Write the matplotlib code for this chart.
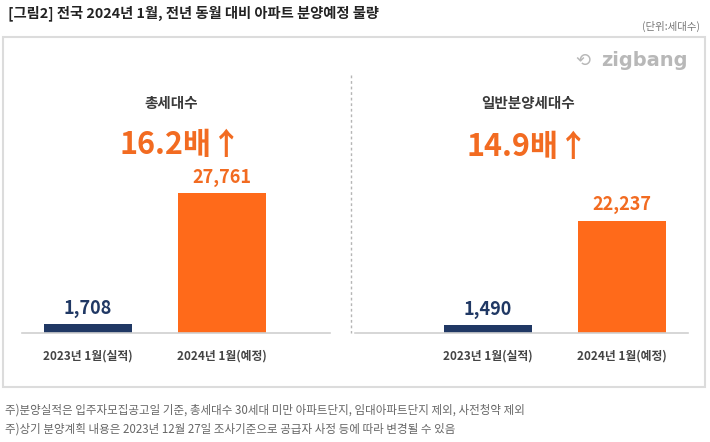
import matplotlib
matplotlib.use("Agg")
import matplotlib.pyplot as plt
from matplotlib.patches import Rectangle
from matplotlib.lines import Line2D

plt.rcParams['font.family'] = ['Noto Sans CJK KR', 'DejaVu Sans']

# data
categories = ['2023년 1월(실적)', '2024년 1월(예정)']
total_units = [1708, 27761]
general_units = [1490, 22237]
panel_titles = ['총세대수', '일반분양세대수']
ratio_labels = ['16.2배↑', '14.9배↑']
title = '[그림2] 전국 2024년 1월, 전년 동월 대비 아파트 분양예정 물량'
unit_note = '(단위:세대수)'
footnotes = ['주)분양실적은 입주자모집공고일 기준, 총세대수 30세대 미만 아파트단지, 임대아파트단지 제외, 사전청약 제외',
             '주)상기 분양계획 내용은 2023년 12월 27일 조사기준으로 공급자 사정 등에 따라 변경될 수 있음']

W, H = 710, 442
navy = '#203864'
orange = '#ff6a1a'
orange_txt = '#f26b21'

fig = plt.figure(figsize=(W / 100, H / 100), dpi=100)
fig.patch.set_facecolor('white')


def px(x, y):
    # pixel position (top-left origin) -> figure fraction
    return x / W, 1 - y / H


# outer box
x0, y0 = px(3, 387)
fig.add_artist(Rectangle((x0, y0), (705 - 3) / W, (387 - 37) / H, transform=fig.transFigure,
                         fill=False, edgecolor='#dcdcdc', linewidth=1.5))

# dashed divider
fig.add_artist(Line2D([351 / W, 351 / W], [1 - 75 / H, 1 - 333 / H], transform=fig.transFigure,
                      color='#b5b5b5', linewidth=1, linestyle=(0, (2, 2))))

base_y = 333
top_y = 80
ymax = (base_y - top_y) / 140 * 27761

# axes: (left px, right px, xlim)
panels = [(22, 330, (-0.49, 1.81)), (355, 688, (-0.99, 1.49))]
series = [total_units, general_units]
title_pos = [(171, 103), (528, 103)]
ratio_pos = [(181, 145), (528, 147)]

for i, (l, r, xl) in enumerate(panels):
    ax = fig.add_axes([l / W, 1 - base_y / H, (r - l) / W, (base_y - top_y) / H])
    vals = series[i]
    ax.bar([0, 1], vals, width=0.657, color=[navy, orange])
    ax.set_xlim(*xl)
    ax.set_ylim(0, ymax)
    for s in ['top', 'right', 'left']:
        ax.spines[s].set_visible(False)
    ax.spines['bottom'].set_color('#d0d0d0')
    ax.spines['bottom'].set_linewidth(1.2)
    ax.set_yticks([])
    ax.set_xticks([0, 1])
    ax.set_xticklabels(categories, fontsize=8.5, color='#444444', fontweight='bold')
    ax.tick_params(axis='x', length=0, pad=12)
    ax.patch.set_alpha(0)
    for j, v in enumerate(vals):
        ax.annotate(f'{v:,}', (j, v), xytext=(0, 11.5), textcoords='offset points',
                    ha='center', va='center', fontsize=13, fontweight='bold',
                    color=navy if j == 0 else orange_txt)

    tx, ty = px(*title_pos[i])
    fig.text(tx, ty, panel_titles[i], ha='center', va='center', fontsize=10.5,
             fontweight='bold', color='#3a3a3a')
    rx, ry = px(*ratio_pos[i])
    fig.text(rx, ry, ratio_labels[i], ha='center', va='center', fontsize=22,
             fontweight='bold', color=orange_txt)

# header
fig.text(8 / W, 1 - 13 / H, title, ha='left', va='center', fontsize=10.3,
         fontweight='bold', color='#222222')
fig.text(700 / W, 1 - 26 / H, unit_note, ha='right', va='center', fontsize=7.5, color='#777777')

# logo
fig.text(688 / W, 1 - 61 / H, 'zigbang', ha='right', va='center', fontsize=14,
         fontweight='bold', color='#b8b8b8', family=['DejaVu Sans'])
fig.text(583 / W, 1 - 61 / H, '⟲', ha='center', va='center', fontsize=13,
         color='#b8b8b8', family=['DejaVu Sans'])

# footnotes
for k, note in enumerate(footnotes):
    fig.text(5 / W, 1 - (410 + 19 * k) / H, note, ha='left', va='center', fontsize=8.3,
             color='#666666')

fig.savefig('out.png', dpi=100)
